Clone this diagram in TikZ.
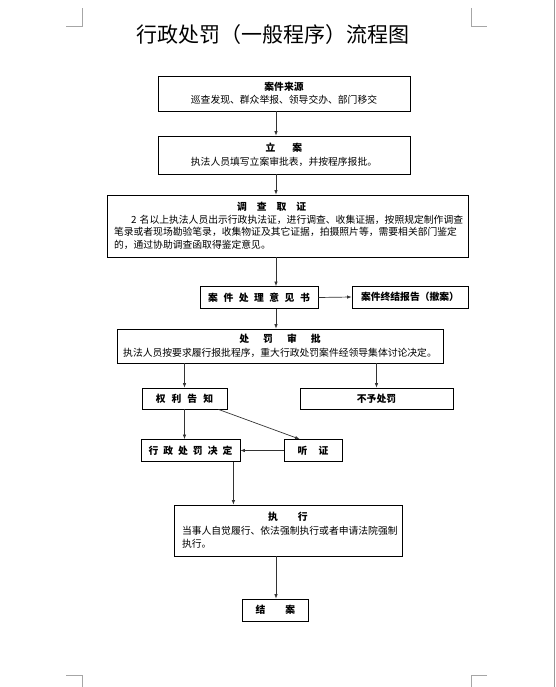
\documentclass[tikz,border=0pt]{standalone}
\usepackage{fontspec}
\setmainfont{Noto Sans CJK SC}
\usetikzlibrary{arrows.meta,calc}

\begin{document}
\begin{tikzpicture}[x=1pt,y=-1pt]
\tikzstyle{box}=[draw,rectangle,line width=0.8pt,inner sep=2pt,font=\fontsize{9.8}{12.5}\selectfont]
\tikzstyle{arr}=[draw=black!80,line width=0.7pt,-{Latex[length=4.5pt,width=3.5pt]}]
\tikzstyle{crop}=[draw=black!35,line width=0.6pt]

\useasboundingbox (0,0) rectangle (555,687);

% page corners
\draw[crop] (66,26) -- (82,26) -- (82,8);
\draw[crop] (471,8) -- (471,26) -- (487,26);
\draw[crop] (66,675) -- (82,675) -- (82,687);
\draw[crop] (487,675) -- (471,675) -- (471,687);
\draw[black!40,line width=0.6pt] (554,0) -- (554,687);

\node (title) at (273,34.5) {\fontsize{21}{24}\selectfont 行政处罚（一般程序）流程图};

% Step 1: source, filing, investigation
\node[box,minimum width=252pt,minimum height=35pt,align=center] (src) at (284,93.5)
  {\textbf{案件来源}\\[0.5pt]巡查发现、群众举报、领导交办、部门移交};
\node[box,minimum width=252pt,minimum height=38pt,align=center] (filing) at (284,155)
  {\textbf{立\hspace{17pt}案}\hspace{15pt}\\[1.5pt]执法人员填写立案审批表，并按程序报批。};
\node[box,minimum width=361pt,minimum height=62pt,text width=347pt,align=left] (probe) at (287.5,226)
  {\hspace*{123pt}\textbf{调\hspace{10pt}查\hspace{10pt}取\hspace{10pt}证}\\
   \hspace*{17pt}2 名以上执法人员出示行政执法证，进行调查、收集证据，按照规定制作调查\\
   笔录或者现场勘验笔录，收集物证及其它证据，拍摄照片等，需要相关部门鉴定\\
   的，通过协助调查函取得鉴定意见。};

% Step 2: opinion
\node[box,minimum width=118pt,minimum height=22pt] (opinion) at (259,297.5)
  {\textbf{案\hspace{5.5pt}件\hspace{5.5pt}处\hspace{5.5pt}理\hspace{5.5pt}意\hspace{5.5pt}见\hspace{5.5pt}书}};
\node[box,minimum width=116pt,minimum height=22pt] (closure) at (410,297)
  {\textbf{案件终结报告（撤案）}};

% Step 3: approval and decision
\node[box,minimum width=326pt,minimum height=34pt,align=center] (approve) at (280,346)
  {\textbf{处\hspace{14pt}罚\hspace{14pt}审\hspace{14pt}批}\\[2pt]执法人员按要求履行报批程序，重大行政处罚案件经领导集体讨论决定。};
\node[box,minimum width=85pt,minimum height=21pt] (notify) at (184.5,398.5)
  {\textbf{权\hspace{6pt}利\hspace{6pt}告\hspace{6pt}知}};
\node[box,minimum width=153pt,minimum height=21pt] (nopen) at (376.5,398.5)
  {\textbf{不予处罚}};
\node[box,minimum width=99pt,minimum height=22pt] (decide) at (190.5,450.5)
  {\textbf{行\hspace{5pt}政\hspace{5pt}处\hspace{5pt}罚\hspace{5pt}决\hspace{5pt}定}};
\node[box,minimum width=58pt,minimum height=22pt] (hearing) at (313,450.5)
  {\textbf{听\hspace{11pt}证}};

% Step 4: execution
\node[box,minimum width=228pt,minimum height=51pt,text width=212pt,align=left] (exec) at (288,530.5)
  {\makebox[212pt]{\textbf{执\hspace{20pt}行}}\\[1pt]
   当事人自觉履行、依法强制执行或者申请法院强制\\[1pt]
   执行。};
\node[box,minimum width=66pt,minimum height=22pt] (finish) at (275.5,610)
  {\textbf{结\hspace{20pt}案}};

% connectors
\coordinate (spine) at (276,0);
\draw[arr] (src.south -| spine) -- (filing.north -| spine);
\draw[arr] (filing.south -| spine) -- (probe.north -| spine);
\draw[arr] (probe.south -| spine) -- (opinion.north -| spine);
\draw[arr] (opinion.east) -- (closure.west);
\draw[arr] (opinion.south -| spine) -- (approve.north -| spine);
\draw[arr] (approve.south -| notify.north) -- (notify.north);
\draw[arr] (approve.south -| nopen.north) -- (nopen.north);
\draw[arr] (notify.south) -- (notify.south |- decide.north);
\draw[arr] ([xshift=-9pt]notify.south east) -- ([xshift=16pt]hearing.north west);
\draw[arr] (hearing.west) -- (decide.east);
\coordinate (down) at ([xshift=-7pt]decide.south east);
\draw[arr] (down) -- (down |- exec.north);
\draw[arr] (exec.south -| spine) -- (finish.north -| spine);
\end{tikzpicture}
\end{document}
